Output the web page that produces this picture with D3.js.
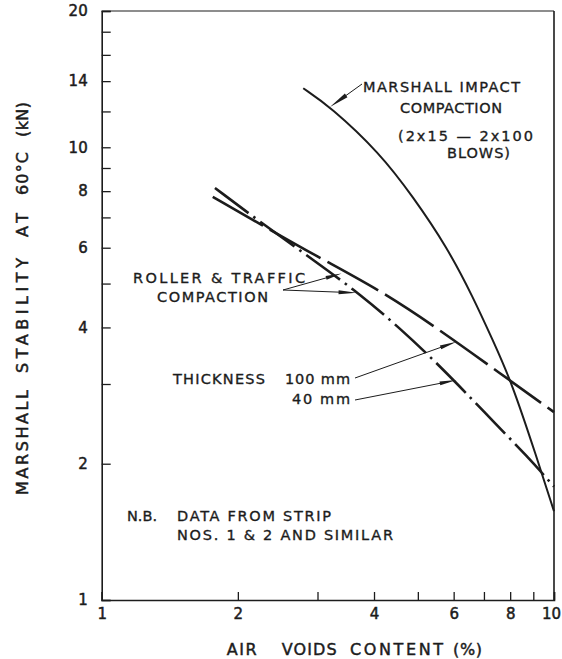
<!DOCTYPE html>
<html><head><meta charset="utf-8">
<script src="https://cdn.jsdelivr.net/npm/d3@7"></script>
<style>html,body{margin:0;padding:0;background:#fff;} svg{display:block;} text{white-space:pre;}</style>
</head><body>
<svg id="chart" width="562" height="659"></svg>
<script>
// ---- data ----
const xTicks = [1,2,3,4,5,6,7,8,9,10];
const xTickLabels = [1,2,4,6,8,10];
const yTicks = [1,2,3,4,5,6,7,8,9,10,12,14,16,18,20];
const yTickLabels = [1,2,4,6,8,10,14,20];

const marshallVoids = [2.79,3.20,4.12,4.88,5.80,6.62,7.32,8.06,9.15,10];
const marshallStab  = [13.5,12.3,9.71,7.77,6.02,4.67,3.75,3.03,2.07,1.57];
const t100Voids = [1.76,2.24,2.98,4.12,5.59,7.59,10];
const t100Stab  = [7.77,6.77,5.75,4.84,3.95,3.17,2.60];
const t40Voids  = [1.78,2.24,2.98,3.69,4.56,5.68,6.96,8.84,10];
const t40Stab   = [8.13,6.84,5.58,4.77,3.99,3.24,2.62,2.05,1.78];

// annotation arrow tips (data coords)
const tipMarshall = [3.196, 12.27];
const tipRoller100 = [3.39, 5.26];
const tipRoller40 = [3.66, 4.77];
const tipThick100 = [6.09, 3.72];
const tipThick40 = [6.09, 3.06];

const xTitleWords = ["AIR","VOIDS","CONTENT","(%)"];
const yTitleWords = ["MARSHALL","STABILITY","AT","60°C","(kN)"];

// ---- layout ----
const ink = "#1c1c1c";
const font = "'DejaVu Sans', sans-serif";
const L = 101.7, R = 554, T = 11, B = 600;
const svg = d3.select("#chart");
const x = d3.scaleLog().domain([1,10]).range([L,R]);
const y = d3.scaleLog().domain([1,20]).range([B,T]);

// frame
svg.append("line").attr("x1",L).attr("x2",R).attr("y1",T).attr("y2",T).attr("stroke",ink).attr("stroke-width",1.2);
svg.append("line").attr("x1",R).attr("x2",R).attr("y1",T).attr("y2",B).attr("stroke",ink).attr("stroke-width",1.6);

// y axis
const yAxis = d3.axisLeft(y).tickValues(yTicks).tickSize(-9).tickPadding(14)
  .tickFormat(d => yTickLabels.includes(d) ? String(d) : "");
const gy = svg.append("g").attr("transform",`translate(${L},0)`).call(yAxis);
gy.select(".domain").attr("stroke",ink).attr("stroke-width",1.6);
gy.selectAll(".tick line").attr("stroke",ink).attr("stroke-width",1.3);
gy.selectAll(".tick text").attr("fill",ink).attr("font-family",font).attr("font-size",15)
  .attr("stroke",ink).attr("stroke-width",0.5);

// x axis
const xAxis = d3.axisBottom(x).tickValues(xTicks).tickSize(-8).tickPadding(8)
  .tickFormat(d => xTickLabels.includes(d) ? String(d) : "");
const gx = svg.append("g").attr("transform",`translate(0,${B})`).call(xAxis);
gx.select(".domain").attr("stroke",ink).attr("stroke-width",1.6);
gx.selectAll(".tick line").attr("stroke",ink).attr("stroke-width",1.3);
gx.selectAll(".tick text").attr("fill",ink).attr("font-family",font).attr("font-size",15)
  .attr("stroke",ink).attr("stroke-width",0.5)
  .attr("dx", d => d === 10 ? -3 : 0);

// curves
const line = d3.line().x(d=>x(d[0])).y(d=>y(d[1])).curve(d3.curveBasis);
const zip = (a,b) => a.map((v,i)=>[v,b[i]]);
svg.append("path").attr("d", line(zip(marshallVoids, marshallStab)))
  .attr("fill","none").attr("stroke",ink).attr("stroke-width",2);
svg.append("path").attr("d", line(zip(t100Voids, t100Stab)))
  .attr("fill","none").attr("stroke",ink).attr("stroke-width",2.6)
  .attr("stroke-dasharray","58,8");
svg.append("path").attr("d", line(zip(t40Voids, t40Stab)))
  .attr("fill","none").attr("stroke",ink).attr("stroke-width",2.6)
  .attr("stroke-dasharray","42,6,2.5,6");

// arrows
function arrow(x0,y0,tip,len,hw){
  const x1 = x(tip[0]), y1 = y(tip[1]);
  const dx = x1-x0, dy = y1-y0, d = Math.hypot(dx,dy), ux = dx/d, uy = dy/d;
  svg.append("line").attr("x1",x0).attr("y1",y0).attr("x2",x1-ux*len*0.5).attr("y2",y1-uy*len*0.5)
    .attr("stroke",ink).attr("stroke-width",1);
  const bx = x1-ux*len, by = y1-uy*len;
  svg.append("polygon").attr("points",[[x1,y1],[bx-uy*hw,by+ux*hw],[bx+uy*hw,by-ux*hw]].map(p=>p.join(",")).join(" "))
    .attr("fill",ink);
}
arrow(362,84,tipMarshall,20,2.2);
arrow(283,290,tipRoller100,16,2);
arrow(283,290,tipRoller40,18,2);
arrow(355,378,tipThick100,17,2);
arrow(355,400,tipThick40,17,2);

// text helper
function txt(s,x0,yb,len,size,sw){
  const t = svg.append("text").attr("x",x0).attr("y",yb).text(s)
    .attr("font-family",font).attr("font-size",size||14.5).attr("fill",ink)
    .attr("stroke",ink).attr("stroke-width",sw||0.35);
  if(len){ t.attr("textLength",len).attr("lengthAdjust","spacing"); }
  return t;
}
txt("MARSHALL IMPACT",363,92,157);
txt("COMPACTION",400,113,102);
txt("(2x15 — 2x100",398,141,135);
txt("BLOWS)",447,158,63);
txt("ROLLER & TRAFFIC",133,283,172);
txt("COMPACTION",157,302,111);
txt("THICKNESS",173,384,92);
txt("100 mm",285,384,65);
txt("40 mm",292,404,58);
txt("N.B.",127,521,30);
txt("DATA FROM STRIP",177,521,154);
txt("NOS. 1 & 2 AND SIMILAR",177,540,216);

// axis titles (word positions along each axis)
const xTitlePos = [[226.7,30],[281.7,55],[350,93],[453,29]];
xTitleWords.forEach((w,i) => txt(w, xTitlePos[i][0], 655, xTitlePos[i][1], 16, 0.45));
const yTitlePos = [[495,105],[373,115],[237,24],[195,43],[137,35]];
yTitleWords.forEach((w,i) => {
  svg.append("text").attr("transform",`translate(28,${yTitlePos[i][0]}) rotate(-90)`).text(w)
    .attr("font-family",font).attr("font-size",16).attr("fill",ink)
    .attr("stroke",ink).attr("stroke-width",0.5)
    .attr("textLength",yTitlePos[i][1]).attr("lengthAdjust","spacing");
});
</script>
</body></html>
